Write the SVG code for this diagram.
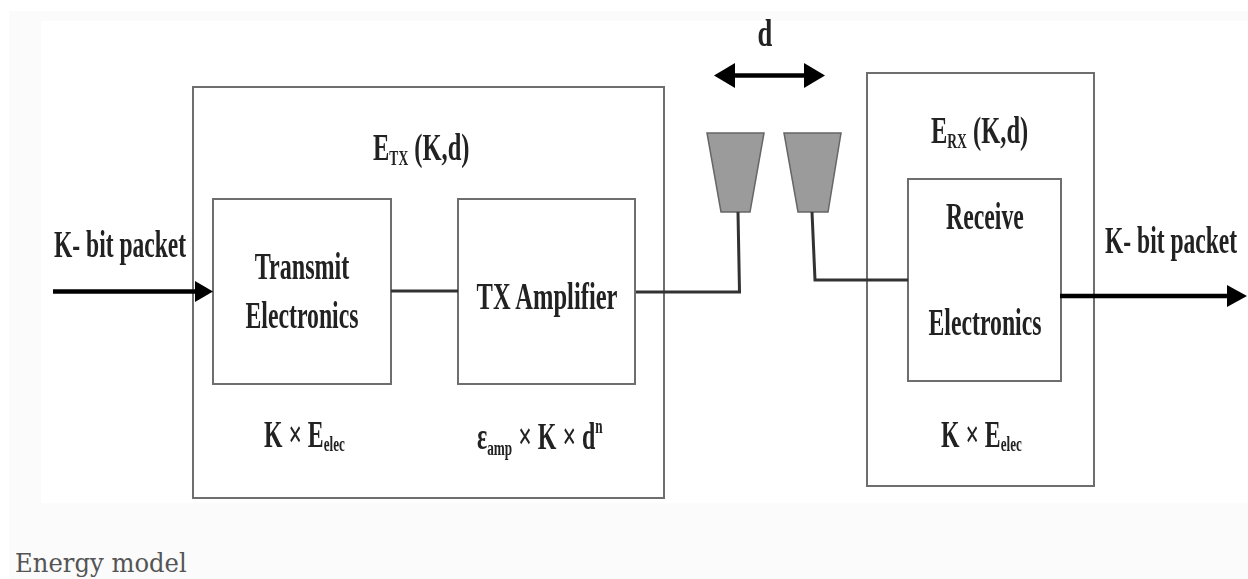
<svg xmlns="http://www.w3.org/2000/svg" width="1248" height="579" viewBox="0 0 1248 579">
<defs>
<filter id="soft" x="-2%" y="-2%" width="104%" height="104%"><feGaussianBlur stdDeviation="0.55"/></filter>
<style>
.box{fill:#fff;stroke:#6e6e6e;stroke-width:2}
.wire{fill:none;stroke:#333;stroke-width:3}
.thick{fill:none;stroke:#000;stroke-width:4.5}
.head{fill:#000}
.ant{fill:#9b9b9b;stroke:#666;stroke-width:1.5}
text{font-family:"Liberation Serif","Times New Roman",serif;font-weight:700;fill:#222;font-size:38px}
.sub{font-size:21px}
.cap{font-family:"DejaVu Serif",serif;font-weight:400;fill:#555;font-size:26px}
</style>
</defs>
<rect width="1248" height="579" fill="#ffffff"/>
<rect x="9" y="11" width="1239" height="568" fill="#fbfbfb"/>
<rect x="41" y="21" width="1207" height="482" fill="#ffffff"/>
<g filter="url(#soft)">
<g id="tx-block"><rect class="box" x="193" y="87" width="471" height="411"/>
<text transform="translate(373,160) scale(.645,1)">E<tspan class="sub" dy="5">TX</tspan><tspan dy="-5"> (K,d)</tspan></text></g>
<g id="rx-block"><rect class="box" x="867" y="73" width="227" height="413"/>
<text transform="translate(931,143) scale(.645,1)">E<tspan class="sub" dy="5">RX</tspan><tspan dy="-5"> (K,d)</tspan></text></g>
<g id="transmit"><rect class="box" x="213" y="199" width="178" height="185"/>
<text transform="translate(302,279) scale(.635,1)" text-anchor="middle">Transmit</text>
<text transform="translate(302,328) scale(.625,1)" text-anchor="middle">Electronics</text></g>
<g id="amplifier"><rect class="box" x="458" y="199" width="177" height="185"/>
<text transform="translate(547,309) scale(.645,1)" text-anchor="middle">TX Amplifier</text></g>
<g id="receive"><rect class="box" x="908" y="179" width="153" height="202"/>
<text transform="translate(985,229) scale(.625,1)" text-anchor="middle">Receive</text>
<text transform="translate(985,335) scale(.625,1)" text-anchor="middle">Electronics</text></g>
<g id="antenna-tx"><polygon class="ant" points="707,133 764,133 750,212 721,212"/></g>
<g id="antenna-rx"><polygon class="ant" points="784,133 841,133 828,212 798,212"/></g>
<g id="connectors">
<path class="wire" d="M391 291H458"/>
<path class="wire" d="M636 292H739.500L738 212"/>
<path class="wire" d="M812 212L815 280H908"/>
<path class="thick" d="M53 291.500H197"/><polygon class="head" points="195,281 213,291.500 195,302"/>
<path class="thick" d="M1060 296H1230"/><polygon class="head" points="1227,285 1247,296 1227,307"/>
<path class="thick" d="M732 75.500H806"/><polygon class="head" points="735,63 714,75.500 735,88"/><polygon class="head" points="804,63 825,75.500 804,88"/>
</g>
<g id="labels">
<text transform="translate(54,257) scale(.62,1)">K- bit packet</text>
<text transform="translate(1105,253) scale(.62,1)">K- bit packet</text>
<text transform="translate(765,46) scale(.7,1)" text-anchor="middle">d</text>
<text transform="translate(264,447) scale(.625,1)">K × E<tspan class="sub" dy="4">elec</tspan></text>
<text transform="translate(941,447) scale(.625,1)">K × E<tspan class="sub" dy="4">elec</tspan></text>
<text transform="translate(477,449) scale(.63,1)">ε<tspan class="sub" dy="6">amp</tspan><tspan dy="-6"> × K × d</tspan><tspan class="sub" dy="-16">n</tspan></text>
</g>
</g>
<text class="cap" transform="translate(15,572) scale(.935,1)">Energy model</text>
</svg>
